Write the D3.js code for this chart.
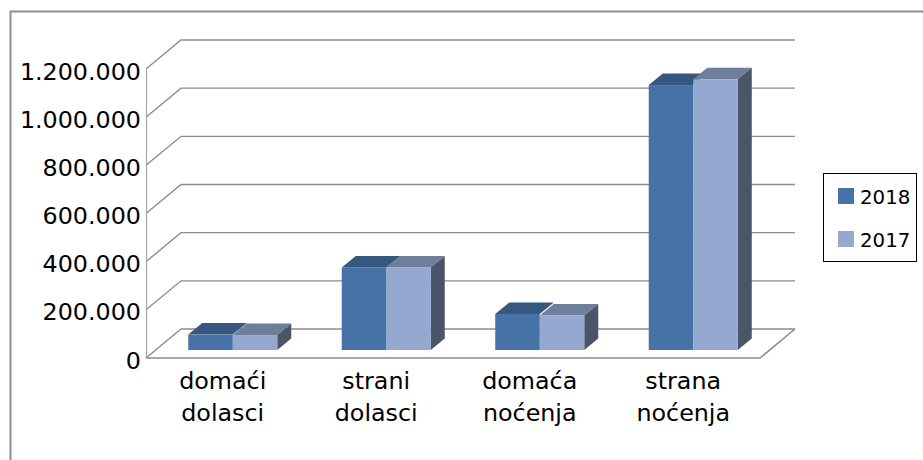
<!DOCTYPE html>
<html>
<head>
<meta charset="utf-8">
<script src="https://cdn.jsdelivr.net/npm/d3@7"></script>
<style>
  body { margin: 0; background: #fff; }
  svg { display: block; }
  text { font-family: "DejaVu Sans", sans-serif; fill: #000; }
</style>
</head>
<body>
<div id="chart"></div>
<script>
// Data
var categories = [["domaći", "dolasci"], ["strani", "dolasci"], ["domaća", "noćenja"], ["strana", "noćenja"]];
var seriesNames = ["2018", "2017"];
var values2018 = [64000, 343000, 150000, 1100000];
var values2017 = [62000, 343000, 143000, 1124000];
var tickValues = [0, 200000, 400000, 600000, 800000, 1000000, 1200000];

var seriesValues = [values2018, values2017];
var frontColors = ["#4672a8", "#95a9d0"];
var topColors = ["#36587f", "#6e7f9c"];
var sideColor = "#4b5568";
var gridColor = "#8c8c8c";

var w = 923;
var h = 460;

// Floor and wall offset of the fake 3D box
var wallDx = 35;
var wallDy = -29;
// Bars stand in the middle of the floor
var barDx = 10;
var barDy = -8;
var depthX = 14;
var depthY = -11.5;

var svg = d3.select("#chart")
    .append("svg")
    .attr("width", w)
    .attr("height", h);

var xScale = d3.scaleBand()
    .domain(d3.range(categories.length))
    .range([146, 760])
    .paddingInner(0.42)
    .paddingOuter(0.21);

var seriesScale = d3.scaleBand()
    .domain(d3.range(seriesNames.length))
    .range([0, xScale.bandwidth()]);

var yScale = d3.scaleLinear()
    .domain([0, 1200000])
    .range([358, 69]);

// Outer frame, only top and left show
svg.append("path")
    .attr("d", "M10.5,460V11.5H923")
    .attr("fill", "none")
    .attr("stroke", "#8f8f8f")
    .attr("stroke-width", 2);

// Gridlines on the back wall and the diagonals down to the front axis
var grid = svg.append("g")
    .attr("fill", "none")
    .attr("stroke", gridColor)
    .attr("stroke-width", 1.4);

grid.selectAll("path")
    .data(tickValues)
    .enter()
    .append("path")
    .attr("d", function(d) {
        var y = yScale(d);
        return "M146," + y + "L" + (146 + wallDx) + "," + (y + wallDy) + "H" + (760 + wallDx);
    });

// Floor
svg.append("path")
    .attr("d", "M146," + yScale(0) + "H760L" + (760 + wallDx) + "," + (yScale(0) + wallDy))
    .attr("fill", "none")
    .attr("stroke", gridColor)
    .attr("stroke-width", 1.6);

// Value axis
var format = d3.formatLocale({ decimal: ",", thousands: ".", grouping: [3], currency: ["", ""] }).format(",d");
var yAxis = d3.axisLeft(yScale)
    .tickValues(tickValues)
    .tickFormat(format)
    .tickSize(0)
    .tickPadding(5);

var yAxisG = svg.append("g")
    .attr("transform", "translate(146,0)")
    .call(yAxis);

yAxisG.select(".domain").attr("stroke", "#a6a6a6").attr("stroke-width", 1.2);
yAxisG.selectAll("text")
    .attr("dy", "0.42em")
    .style("font-family", '"DejaVu Sans", sans-serif')
    .style("font-size", "23.8px");

// Bars, one group per category
var groups = svg.selectAll(".group")
    .data(categories)
    .enter()
    .append("g")
    .attr("class", "group")
    .attr("transform", function(d, i) {
        return "translate(" + (xScale(i) + barDx) + "," + barDy + ")";
    });

var bw = seriesScale.bandwidth();
var y0 = yScale(0);

// The shorter bar goes first, so the taller one overlaps its neighbour's top
groups.each(function(d, i) {
    var group = d3.select(this);
    var order = d3.range(seriesNames.length).sort(function(a, b) {
        return (seriesValues[a][i] - seriesValues[b][i]) || (b - a);
    });

    order.forEach(function(s) {
        var y = yScale(seriesValues[s][i]);
        var bar = group.append("g")
            .attr("transform", "translate(" + seriesScale(s) + ",0)");

        // top face
        bar.append("path")
            .attr("fill", topColors[s])
            .attr("d", "M0," + y + "l" + depthX + "," + depthY + "h" + bw + "l" + (-depthX) + "," + (-depthY) + "z");

        // side face, only the last series shows it
        if (s === seriesNames.length - 1) {
            bar.append("path")
                .attr("fill", sideColor)
                .attr("d", "M" + bw + "," + y + "l" + depthX + "," + depthY + "V" + (y0 + depthY) + "L" + bw + "," + y0 + "z");
        }

        // front face
        bar.append("rect")
            .attr("x", 0)
            .attr("width", bw)
            .attr("y", y)
            .attr("height", y0 - y)
            .attr("fill", frontColors[s]);
    });
});

// Category labels on two lines
var catLabels = svg.selectAll(".cat")
    .data(categories)
    .enter()
    .append("text")
    .attr("class", "cat")
    .attr("text-anchor", "middle")
    .style("font-size", "23.8px");

catLabels.selectAll("tspan")
    .data(function(d, i) {
        return d.map(function(line) { return { line: line, i: i }; });
    })
    .enter()
    .append("tspan")
    .attr("x", function(d) { return xScale(d.i) + xScale.bandwidth() / 2; })
    .attr("y", function(d, j) { return 389 + j * 32; })
    .text(function(d) { return d.line; });

// Legend
var legend = svg.append("g");

legend.append("rect")
    .attr("x", 823.5)
    .attr("y", 173.5)
    .attr("width", 93)
    .attr("height", 88)
    .attr("fill", "#fff")
    .attr("stroke", "#000");

var legendItems = legend.selectAll(".item")
    .data(seriesNames)
    .enter()
    .append("g")
    .attr("class", "item")
    .attr("transform", function(d, i) {
        return "translate(838," + (188 + i * 43) + ")";
    });

legendItems.append("rect")
    .attr("width", 16)
    .attr("height", 16)
    .attr("fill", function(d, i) { return frontColors[i]; });

legendItems.append("text")
    .attr("x", 22)
    .attr("y", 16)
    .style("font-size", "19.8px")
    .text(function(d) { return d; });
</script>
</body>
</html>
